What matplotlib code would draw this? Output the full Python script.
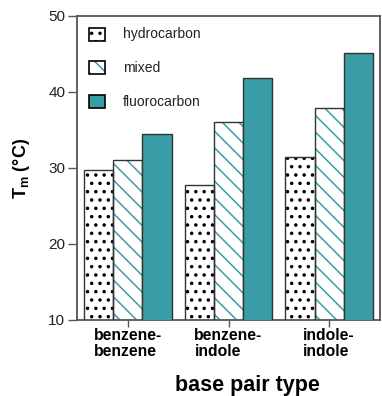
import numpy as np
import matplotlib
matplotlib.use("Agg")
from matplotlib import pyplot as plt
from matplotlib.patches import Rectangle

plt.rcParams['font.family'] = ['Liberation Sans', 'DejaVu Sans']
plt.rcParams['mathtext.fontset'] = 'custom'
plt.rcParams['mathtext.rm'] = 'Liberation Sans'
plt.rcParams['mathtext.bf'] = 'Liberation Sans:bold'
plt.rcParams['hatch.linewidth'] = 1.1

# data
groups = ["benzene-\nbenzene", "benzene-\nindole", "indole-\nindole"]
series = ["hydrocarbon", "mixed", "fluorocarbon"]
hydrocarbon = [29.8, 27.8, 31.4]
mixed = [31.1, 36.0, 37.9]
fluorocarbon = [34.5, 41.8, 45.1]

teal = '#3a9ca5'
edge = '#333333'

fig = plt.figure(figsize=(3.82, 3.96), dpi=100)
ax = fig.add_axes([0.2016, 0.192, 0.7932, 0.7676])

x = np.arange(len(groups))
w = 0.29

# hydrocarbon: dotted
with plt.rc_context({'hatch.linewidth': 1.3}):
    ax.bar(x - w, hydrocarbon, w, color='white', edgecolor='black',
           hatch='..', linewidth=0, zorder=2)
ax.bar(x - w, hydrocarbon, w, fill=False, edgecolor=edge, linewidth=1.0, zorder=3)

# mixed: teal diagonal lines
ax.bar(x, mixed, w, color='white', edgecolor=teal, hatch='\\\\', linewidth=0, zorder=2)
ax.bar(x, mixed, w, fill=False, edgecolor=edge, linewidth=1.0, zorder=3)

# fluorocarbon: solid teal
ax.bar(x + w, fluorocarbon, w, color=teal, edgecolor=edge, linewidth=1.0, zorder=3)

ax.set_ylim(10, 50)
ax.set_xlim(-0.505, 2.505)
ax.set_yticks([10, 20, 30, 40, 50])
ax.set_xticks(x)
ax.set_xticklabels(groups, fontweight='bold', fontsize=11.3, multialignment='left',
                   linespacing=1.05)
ax.tick_params(axis='y', direction='out', length=6.5, width=1.0, color='#555555',
               labelsize=11, pad=2, labelcolor='#222222')
ax.tick_params(axis='x', direction='out', length=5, width=1.0, color='#555555', pad=1)
for s in ax.spines.values():
    s.set_color('#555555')
    s.set_linewidth(1.3)

ax.set_ylabel(r'$\mathbf{T_m}$ (°C)', fontweight='bold', fontsize=13, labelpad=12)
fig.text(0.6466, (396 - 385) / 396, 'base pair type', ha='center', va='center',
         fontweight='bold', fontsize=15.5)

# legend (manual, upper left, no frame)
hatches = ['..', '\\\\', None]
faces = ['white', 'white', teal]
hcols = ['black', teal, edge]
for i, lab in enumerate(series):
    yc = 0.94 - i * 0.111
    with plt.rc_context({'hatch.linewidth': 1.3 if i == 0 else 1.1}):
        ax.add_patch(Rectangle((0.04, yc - 0.021), 0.052, 0.043, transform=ax.transAxes,
                               facecolor=faces[i], edgecolor=hcols[i], hatch=hatches[i],
                               linewidth=0, zorder=4))
    ax.add_patch(Rectangle((0.04, yc - 0.021), 0.052, 0.043, transform=ax.transAxes,
                           fill=(i == 2), facecolor=faces[i], edgecolor='black',
                           linewidth=1.2, zorder=5))
    ax.text(0.152, yc, lab, transform=ax.transAxes, va='center', ha='left',
            fontsize=10, color='#222222')

fig.savefig('out.png', dpi=100)
